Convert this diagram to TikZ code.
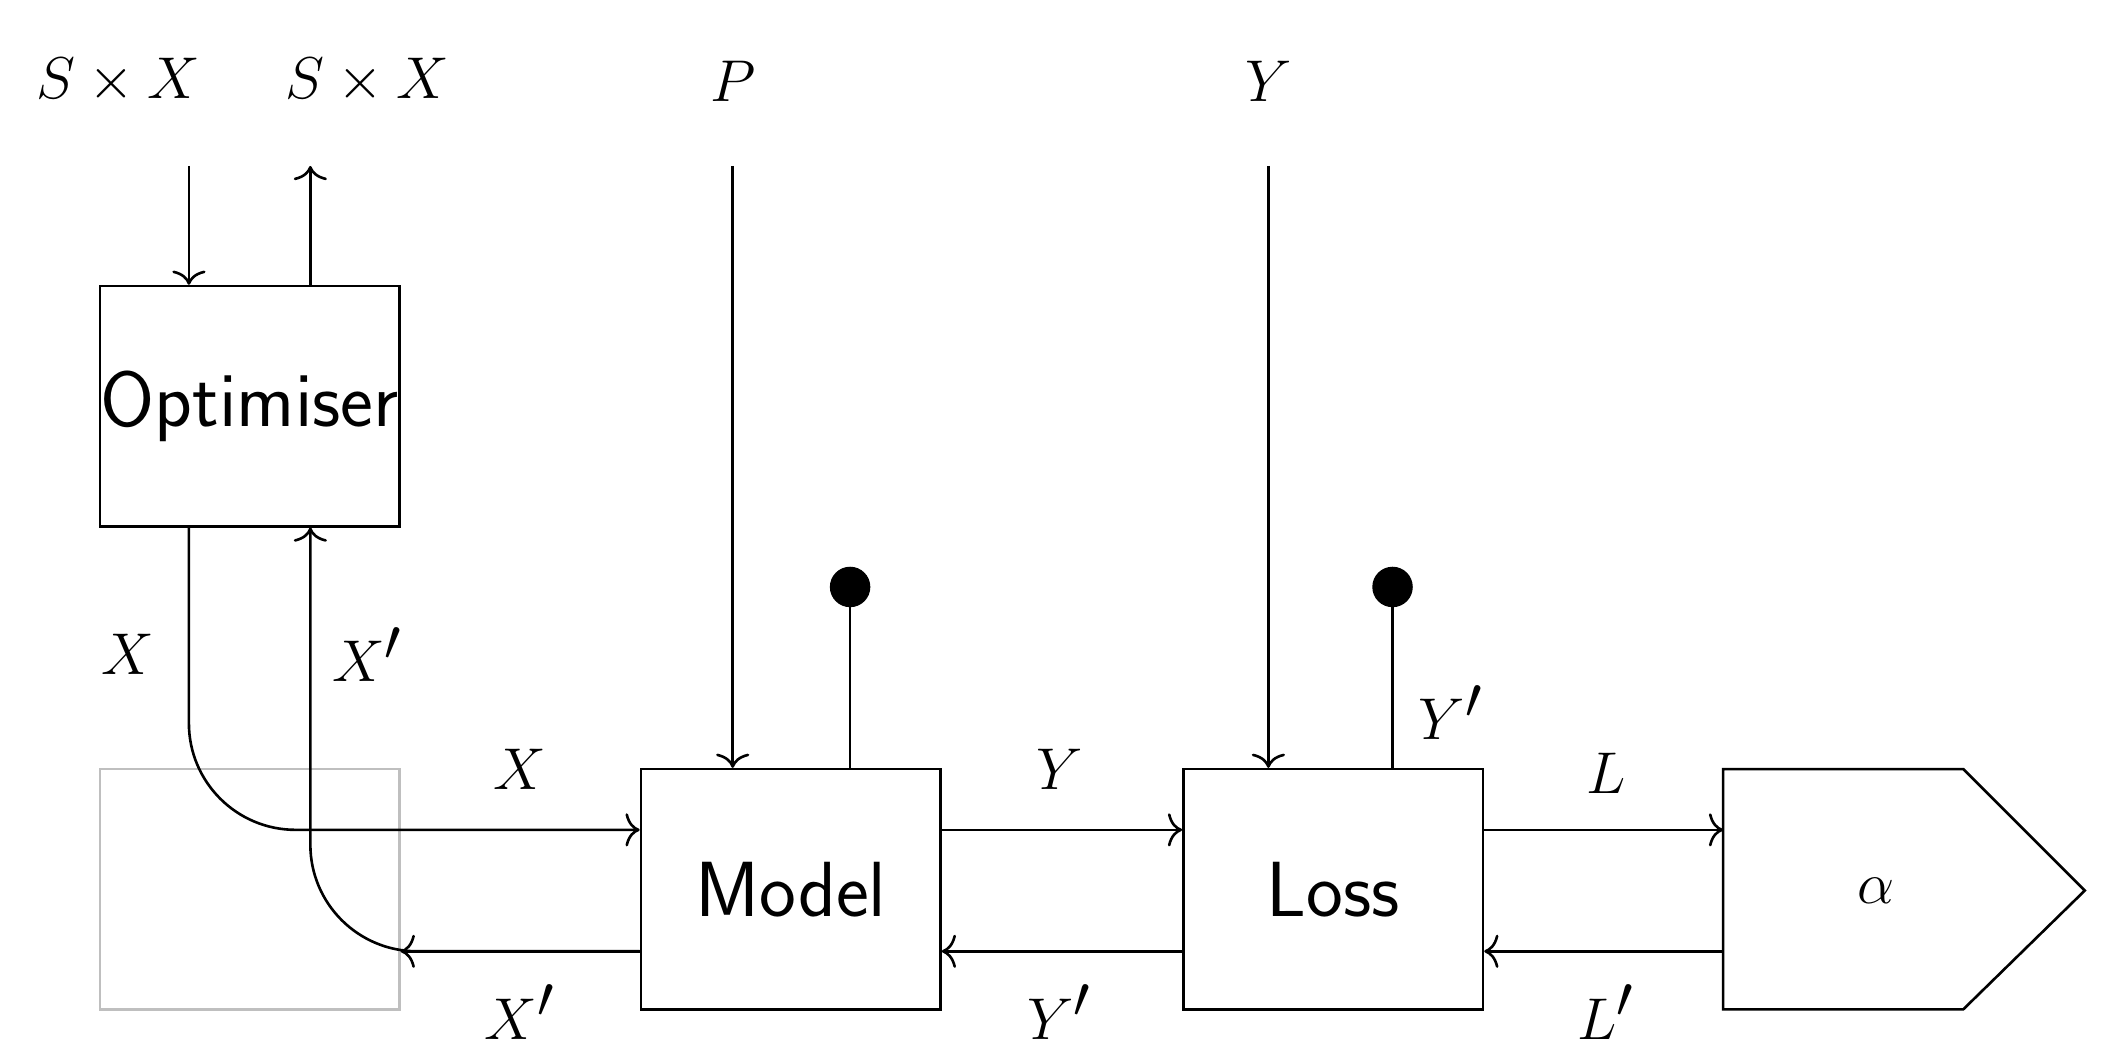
\documentclass[tikz,border=0pt]{standalone}
\usetikzlibrary{arrows.meta,calc}
\begin{document}
\begin{tikzpicture}[x=0.02cm,y=-0.02cm,
  box/.style={draw,line width=1.1pt,minimum width=4.44cm,minimum height=3.56cm,inner sep=0pt,font=\fontsize{33}{40}\selectfont\sffamily},
  lbl/.style={font=\fontsize{33}{40}\selectfont},
  ar/.style={line width=1.1pt,-{To[length=6pt,width=14pt]}},
  ln/.style={line width=1.1pt}]
\useasboundingbox (0,0) rectangle (1560,786);
\node[box] (opt) at (185,301) {Optimiser};
\node[box,draw=black!25] (gray) at (185,659) {};
\node[box] (model) at (586,659) {Model};
\node[box] (loss) at (988,659) {Loss};
\draw[ln] (1277,570) coordinate (a1) -- (1455,570) -- (1545,660) -- (1455,748) -- (1277,748) -- cycle;
\coordinate (alin) at (1277,615);
\coordinate (alout) at (1277,705);
\node[lbl] (al) at (1390,660) {$\alpha$};
\node[lbl] (t1) at (88,60) {$S\times X$};
\node[lbl] (t2) at (272,60) {$S\times X$};
\node[lbl] (tp) at (543,60) {$P$};
\node[lbl] (ty) at (940,60) {$Y$};
\coordinate (s1) at (140,123);
\coordinate (s2) at (230,123);
\coordinate (sp) at (543,123);
\coordinate (sy) at (940,123);
\draw[ar] (s1) -- (s1 |- opt.north);
\draw[ar] (s2 |- opt.north) -- (s2);
\draw[ar] (sp) -- (sp |- model.north);
\draw[ar] (sy) -- (sy |- loss.north);
% X path
\draw[ar,rounded corners=45] (s1 |- opt.south) -- (140,615) -- (model.west |- 0,615);
\draw[ar,rounded corners=45] (model.west |- 0,705) -- (230,705) -- (s2 |- opt.south);
\draw[ln] (gray.east |- 0,705) -- ++(0,0);
\draw[ar] (model.west |- 0,705) -- (gray.east |- 0,705);
\draw[ar] (model.east |- 0,615) -- (loss.west |- 0,615);
\draw[ar] (loss.west |- 0,705) -- (model.east |- 0,705);
\draw[ar] (loss.east |- 0,615) -- (alin);
\draw[ar] (alout) -- (loss.east |- 0,705);
\coordinate (d1) at (630,435);
\coordinate (d2) at (1032,435);
\draw[ln] (d1 |- model.north) -- (d1);
\draw[ln] (d2 |- loss.north) -- (d2);
\fill (d1) circle (15);
\fill (d2) circle (15);
\node[lbl] (lx1) at (95,485) {$X$};
\node[lbl] (lx2) at (272,485) {$X'$};
\node[lbl] (lx3) at (385,570) {$X$};
\node[lbl] (lx4) at (385,750) {$X'$};
\node[lbl] (ly1) at (785,570) {$Y$};
\node[lbl] (ly2) at (785,750) {$Y'$};
\node[lbl] (ly3) at (1075,528) {$Y'$};
\node[lbl] (ll1) at (1190,573) {$L$};
\node[lbl] (ll2) at (1190,750) {$L'$};
\end{tikzpicture}
\end{document}
